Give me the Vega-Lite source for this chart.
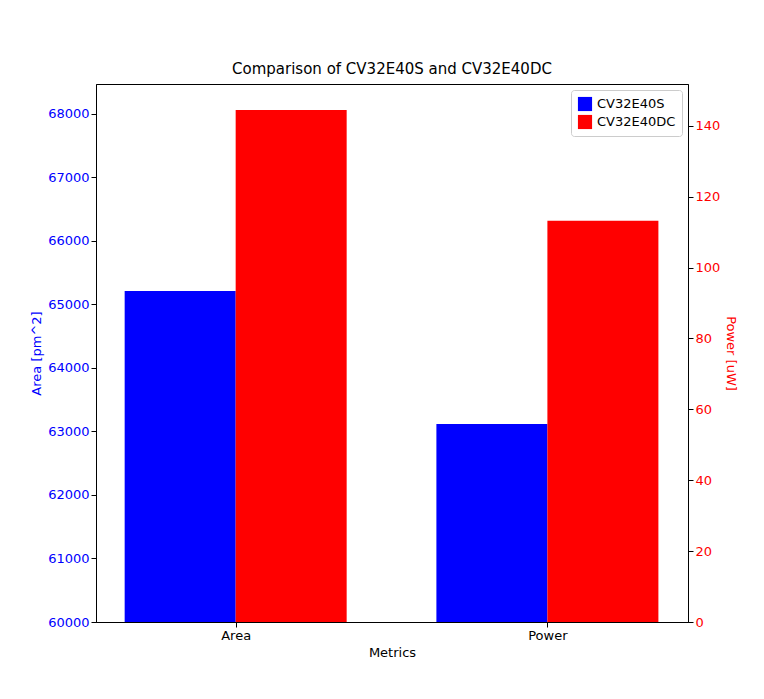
{
  "$schema": "https://vega.github.io/schema/vega-lite/v6.json",
  "autosize": "none",
  "width": 592,
  "height": 538,
  "padding": {"left": 96, "top": 84, "right": 76, "bottom": 77},
  "background": "white",
  "title": {"text": "Comparison of CV32E40S and CV32E40DC", "fontSize": 15, "fontWeight": "normal", "font": "DejaVu Sans", "offset": 7},
  "data": {
    "values": [
      {"metric": "Area", "idx": 0, "series": "CV32E40S", "value": 65213},
      {"metric": "Area", "idx": 0, "series": "CV32E40DC", "value": 68063},
      {"metric": "Power", "idx": 1, "series": "CV32E40S", "value": 55.9},
      {"metric": "Power", "idx": 1, "series": "CV32E40DC", "value": 113.2}
    ]
  },
  "encoding": {
    "x": {
      "field": "idx", "type": "quantitative", "title": "Metrics",
      "scale": {"domain": [-0.432, 1.435], "nice": false, "zero": false},
      "axis": {"values": [0, 1], "labelExpr": "datum.value == 0 ? 'Area' : 'Power'", "grid": false, "labelColor": "black", "titleColor": "black", "labelFontSize": 13, "titleFontSize": 13, "titleFontWeight": "normal", "domainColor": "black", "tickColor": "black"}
    },
    "color": {
      "field": "series", "type": "nominal",
      "scale": {"domain": ["CV32E40S", "CV32E40DC"], "range": ["blue", "red"]},
      "legend": {"title": null, "orient": "top-right", "symbolType": "square", "symbolSize": 200, "labelFontSize": 13, "strokeColor": "#cccccc", "padding": 6, "fillColor": "white", "offset": 6, "cornerRadius": 3}
    }
  },
  "layer": [
    {
      "transform": [{"filter": "datum.metric == 'Area'"}],
      "encoding": {
        "y": {
          "field": "value", "type": "quantitative", "title": "Area [pm^2]",
          "scale": {"domain": [60000, 68472], "nice": false, "zero": false},
          "axis": {"grid": false, "tickCount": 9, "labelColor": "blue", "titleColor": "blue", "labelFontSize": 13, "titleFontSize": 13, "titleFontWeight": "normal", "domainColor": "black", "tickColor": "black", "format": "d"}
        }
      },
      "layer": [
        {"transform": [{"filter": "datum.series == 'CV32E40S'"}], "mark": {"type": "bar", "width": 111, "xOffset": -55.5, "clip": true}},
        {"transform": [{"filter": "datum.series == 'CV32E40DC'"}], "mark": {"type": "bar", "width": 111, "xOffset": 55.5, "clip": true}}
      ]
    },
    {
      "transform": [{"filter": "datum.metric == 'Power'"}],
      "encoding": {
        "y": {
          "field": "value", "type": "quantitative", "title": "Power [uW]",
          "scale": {"domain": [0, 151.8], "nice": false},
          "axis": {"orient": "right", "grid": false, "values": [0, 20, 40, 60, 80, 100, 120, 140], "labelColor": "red", "titleColor": "red", "labelFontSize": 13, "titleFontSize": 13, "titleFontWeight": "normal", "domainColor": "black", "tickColor": "black"}
        }
      },
      "layer": [
        {"transform": [{"filter": "datum.series == 'CV32E40S'"}], "mark": {"type": "bar", "width": 111, "xOffset": -55.5, "clip": true}},
        {"transform": [{"filter": "datum.series == 'CV32E40DC'"}], "mark": {"type": "bar", "width": 111, "xOffset": 55.5, "clip": true}}
      ]
    }
  ],
  "resolve": {"scale": {"y": "independent"}},
  "config": {
    "font": "DejaVu Sans",
    "view": {"stroke": "black", "strokeWidth": 1},
    "axis": {"labelFont": "DejaVu Sans", "titleFont": "DejaVu Sans"},
    "legend": {"labelFont": "DejaVu Sans"}
  }
}
